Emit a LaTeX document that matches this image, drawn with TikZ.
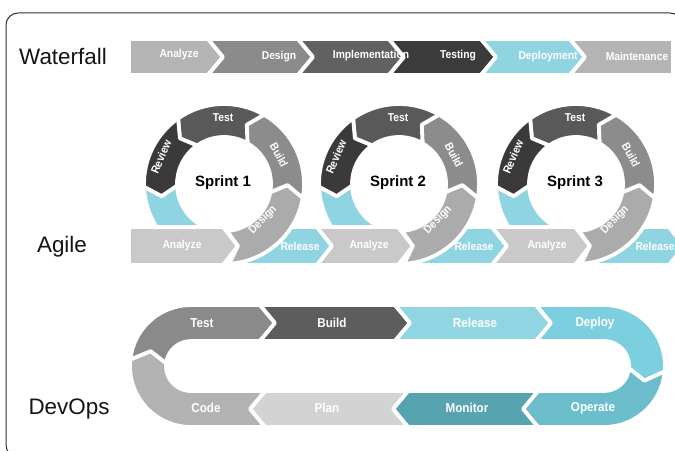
\documentclass[tikz,border=0pt]{standalone}
\usepackage{fontspec}
\setmainfont{Liberation Sans}
\newfontfamily\labfont[FakeStretch=0.9]{Liberation Sans}

% palette
\definecolor{gA}{HTML}{B4B4B4}
\definecolor{gB}{HTML}{8B8B8B}
\definecolor{gC}{HTML}{616161}
\definecolor{gD}{HTML}{3B3B3B}
\definecolor{cy}{HTML}{8FD4E1}
\definecolor{agA}{HTML}{C9C9C9}
\definecolor{rTest}{HTML}{595959}
\definecolor{rBuild}{HTML}{8C8C8C}
\definecolor{rDesign}{HTML}{ABABAB}
\definecolor{rReview}{HTML}{3A3A3A}
\definecolor{dTest}{HTML}{8A8A8A}
\definecolor{dBuild}{HTML}{5D5D5D}
\definecolor{dRelease}{HTML}{92D5E2}
\definecolor{dDeploy}{HTML}{7CCFDF}
\definecolor{dOperate}{HTML}{6BBDCC}
\definecolor{dMonitor}{HTML}{57A4B1}
\definecolor{dPlan}{HTML}{D3D3D3}
\definecolor{dCode}{HTML}{B2B2B2}
\definecolor{frameline}{HTML}{333333}

% ring geometry: outer, inner, middle radius and head depth (degrees)
\newcommand\Ro{80}
\newcommand\Ri{47}
\newcommand\Rm{63.5}
\newcommand\hd{9}
% one arrow segment of a sprint ring: #1 start angle, #2 end angle, #3 colour
\newcommand\ringseg[3]{%
  \filldraw[gap, fill=#3] (#1:\Ro) arc[start angle=#1, end angle=#2, radius=\Ro]
    -- ({#2-\hd}:\Rm) -- (#2:\Ri) arc[start angle=#2, end angle=#1, radius=\Ri]
    -- ({#1-\hd}:\Rm) -- cycle;}

\begin{document}
\begin{tikzpicture}[x=1bp, y=-1bp,
  gap/.style={draw=white, line width=3.8bp, line join=round},
  lbl/.style={text=white, font=\labfont\bfseries\fontsize{11.5}{12}\selectfont, inner sep=0pt},
  dlbl/.style={text=white, font=\labfont\bfseries\fontsize{13}{14}\selectfont, inner sep=0pt},
  title/.style={font=\fontsize{22.5}{24}\selectfont, text=black!92, inner sep=0pt},
  sprint/.style={font=\bfseries\fontsize{15}{16}\selectfont, text=black, inner sep=0pt}]

\useasboundingbox (0,0) rectangle (675,451);

% outer frame
\begin{scope}
  \clip (0,0) rectangle (675,451);
  \draw[frameline, line width=1bp, rounded corners=12bp] (6,13) rectangle (682,457);
\end{scope}

% row titles
\node[title] (tWaterfall) at (63,56) {Waterfall};
\node[title] (tAgile) at (62,247) {Agile};
\node[title] (tDevOps) at (69,409) {DevOps};

% ---------------- Waterfall ----------------
\filldraw[gap, fill=gA] (129,39) -- (208,39) -- (223,57) -- (208,75) -- (129,75) -- cycle;
\filldraw[gap, fill=gB] (208,39) -- (298,39) -- (313,57) -- (298,75) -- (208,75) -- (223,57) -- cycle;
\filldraw[gap, fill=gC] (298,39) -- (389,39) -- (404,57) -- (389,75) -- (298,75) -- (313,57) -- cycle;
\filldraw[gap, fill=gD] (389,39) -- (481,39) -- (496,57) -- (481,75) -- (389,75) -- (404,57) -- cycle;
\filldraw[gap, fill=cy] (481,39) -- (570,39) -- (585,57) -- (570,75) -- (481,75) -- (496,57) -- cycle;
\filldraw[gap, fill=gA] (570,39) -- (673,39) -- (673,75) -- (570,75) -- (585,57) -- cycle;

\node[lbl] (wAnalyze) at (179,55) {Analyze};
\node[lbl] (wDesign) at (279,57) {Design};
\node[lbl] (wImpl) at (371,56) {Implementation};
\node[lbl] (wTesting) at (458,56) {Testing};
\node[lbl] (wDeploy) at (548,57) {Deployment};
\node[lbl] (wMaint) at (637,56) {Maintenance};

% ---------------- Agile ----------------
% release arcs leaving each review
\foreach \cx in {224,399,576} {
  \begin{scope}[shift={(\cx,184)}]
    \ringseg{-182}{-262}{cy}
  \end{scope}
}

% analyze / release band
\filldraw[gap, fill=agA] (129,227) -- (223,227) -- (238,246) -- (223,265) -- (129,265) -- cycle;
\filldraw[gap, fill=cy] (269,227) -- (317,227) -- (332,246) -- (317,265) -- (234,265) -- cycle;
\filldraw[gap, fill=agA] (317,227) -- (398,227) -- (413,246) -- (398,265) -- (317,265) -- (332,246) -- cycle;
\filldraw[gap, fill=cy] (444,227) -- (492,227) -- (507,246) -- (492,265) -- (409,265) -- cycle;
\filldraw[gap, fill=agA] (492,227) -- (575,227) -- (590,246) -- (575,265) -- (492,265) -- (507,246) -- cycle;
\filldraw[gap, fill=cy] (621,227) -- (669,227) -- (684,246) -- (669,265) -- (586,265) -- cycle;

\node[lbl] (aAnalyze1) at (182,246) {Analyze};
\node[lbl] (aRelease1) at (300,246) {Release};
\node[lbl] (aAnalyze2) at (369,246) {Analyze};
\node[lbl] (aRelease2) at (474,246) {Release};
\node[lbl] (aAnalyze3) at (547,246) {Analyze};
\node[lbl] (aRelease3) at (655,246) {Release};

% sprint rings
\foreach \cx/\n in {224/1,399/2,576/3} {
  \begin{scope}[shift={(\cx,184)}]
    \ringseg{86.3}{10}{rDesign}
    \ringseg{10}{-60}{rBuild}
    \ringseg{-60}{-125}{rTest}
    \ringseg{-125}{-182}{rReview}
    \node[lbl] (test\n) at (-1,-66) {Test};
    \node[lbl, rotate=-62] (build\n) at (55,-29) {Build};
    \node[lbl, rotate=67] (review\n) at (-63,-27) {Review};
    \node[lbl, rotate=46] (design\n) at (39,36) {Design};
    \node[sprint] (sprint\n) at (-1,-1) {Sprint \n};
  \end{scope}
}

% ---------------- DevOps loop ----------------
\coordinate (lc) at (191,366);
\coordinate (rc) at (604,366);
% top run, left to right
\filldraw[gap, fill=dTest] ([shift={(lc)}]186:61) arc[start angle=186, end angle=270, radius=61]
  -- (260,305) -- (275,323) -- (260,341) -- (191,341)
  arc[start angle=270, end angle=186, radius=25] -- ([shift={(lc)}]200:43) -- cycle;
\filldraw[gap, fill=dBuild] (260,305) -- (395,305) -- (410,323) -- (395,341) -- (260,341) -- (275,323) -- cycle;
\filldraw[gap, fill=dRelease] (395,305) -- (536,305) -- (551,323) -- (536,341) -- (395,341) -- (410,323) -- cycle;
\filldraw[gap, fill=dDeploy] (536,305) -- (604,305) arc[start angle=-90, end angle=5, radius=61]
  -- ([shift={(rc)}]20:43) -- ([shift={(rc)}]5:25) arc[start angle=5, end angle=-90, radius=25]
  -- (536,341) -- (551,323) -- cycle;
% bottom run, right to left
\filldraw[gap, fill=dOperate] ([shift={(rc)}]5:61) arc[start angle=5, end angle=90, radius=61]
  -- (538,427) -- (523,409) -- (538,391) -- (604,391)
  arc[start angle=90, end angle=5, radius=25] -- ([shift={(rc)}]20:43) -- cycle;
\filldraw[gap, fill=dMonitor] (538,391) -- (408,391) -- (393,409) -- (408,427) -- (538,427) -- (523,409) -- cycle;
\filldraw[gap, fill=dPlan] (408,391) -- (265,391) -- (250,409) -- (265,427) -- (408,427) -- (393,409) -- cycle;
\filldraw[gap, fill=dCode] (265,391) -- (191,391) arc[start angle=90, end angle=186, radius=25]
  -- ([shift={(lc)}]200:43) -- ([shift={(lc)}]186:61) arc[start angle=186, end angle=90, radius=61]
  -- (265,427) -- (250,409) -- cycle;

\node[dlbl] (dTestL) at (202,323) {Test};
\node[dlbl] (dBuildL) at (332,323) {Build};
\node[dlbl] (dReleaseL) at (475,323) {Release};
\node[dlbl] (dDeployL) at (595,323) {Deploy};
\node[dlbl] (dCodeL) at (206,408) {Code};
\node[dlbl] (dPlanL) at (327,408) {Plan};
\node[dlbl] (dMonitorL) at (467,408) {Monitor};
\node[dlbl] (dOperateL) at (593,408) {Operate};
\end{tikzpicture}
\end{document}
